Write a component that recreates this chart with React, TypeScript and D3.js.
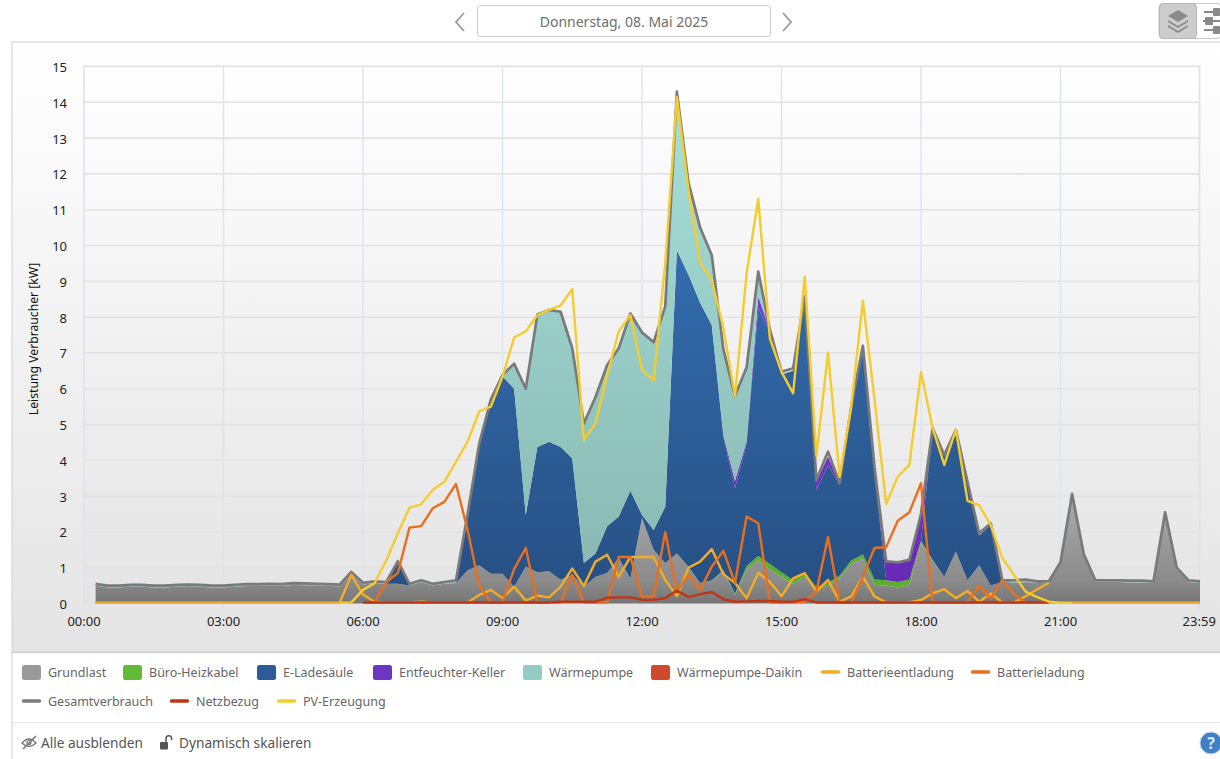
import React from "react";
import * as d3 from "d3";

const grundlast = [.5,.45,.45,.47,.47,.45,.45,.47,.48,.47,.45,.45,.47,.49,.49,.5,.49,.52,.51,.5,.49,.48,.83,.53,.57,.55,.55,.5,.6,.5,.55,.57,.93,1.07,.83,.83,.47,1.03,.87,.9,.66,.8,.47,.75,.85,1.27,.7,2.39,1.5,1.13,1.4,1.03,.57,.65,.9,.24,.95,1.2,.95,.75,.55,.75,.38,.5,.72,1.12,1.25,.52,.5,.45,.52,1.7,1.2,.75,1.45,.65,1.07,.5,.6,.57,.6,.57,.57,1.1,3.01,1.33,.6,.6,.6,.59,.59,.57,2.5,.95,.6,.57];
const bueroHeizkabel = [0,0,0,0,0,0,0,0,0,0,0,0,0,0,0,0,0,0,0,0,0,0,0,0,0,0,0,0,0,0,0,0,0,0,0,0,0,0,0,0,0,0,0,0,0,0,0,0,0,0,0,0,0,0,.03,.03,.1,.13,.15,.12,.1,.1,.08,.08,.06,.08,.12,.15,.15,.15,.15,.05,.02,0,0,0,0,0,0,0,0,0,0,0,0,0,0,0,0,0,0,0,0,0,0,0];
const eLadesaeule = [0,0,0,0,0,0,0,0,0,0,0,0,0,0,0,0,0,0,0,0,0,0,0,0,0,0,.6,0,0,0,0,0,1.55,3.38,4.82,5.52,5.53,1.44,3.5,3.62,3.71,3.26,.66,.65,1.31,1.16,2.45,.08,.55,1.57,8.47,8.15,7.83,7.13,3.73,2.95,3.42,6.92,6.5,5.53,5.85,7.65,2.71,3.29,2.54,4.25,5.78,2.98,0,0,0,0,3.63,3.35,3.35,2.7,.83,1.7,.03,0,0,0,0,0,0,0,0,0,0,0,0,0,0,0,0,0];
const entfeuchter = [0,0,0,0,0,0,0,0,0,0,0,0,0,0,0,0,0,0,0,0,0,0,0,0,0,0,0,0,0,0,0,0,0,0,0,0,0,0,0,0,0,0,0,0,0,0,0,0,0,0,0,0,0,0,.05,.2,.07,.32,.05,0,0,.03,.23,.23,.03,.03,.03,.1,.5,.55,.55,.78,.03,0,0,0,0,0,0,0,0,0,0,0,0,0,0,0,0,0,0,0,0,0,0,0];
const waermepumpe = [.05,.05,.05,.05,.05,.05,.05,.05,.05,.05,.05,.05,.05,.05,.05,.05,.05,.05,.05,.05,.05,.05,.05,.05,.05,.05,.03,.05,.05,.05,.05,.05,0,0,0,.03,.7,3.53,3.7,3.68,3.78,3.07,3.9,4.37,4.5,4.7,4.95,5.1,5.25,5.6,4.43,2.57,2.1,1.95,2.39,2.38,2.06,.7,0,0,0,0,0,0,0,0,0,0,0,0,0,0,0,0,0,0,0,0,.02,.05,.05,.05,.05,.05,.05,.05,.05,.05,.05,.05,.05,.05,.05,.05,.05,.05];
const daikin = grundlast.map(() => 0);
const batterieentladung: (number | null)[] = [.02,.02,.02,.02,.02,.02,.02,.02,.02,.02,.02,.02,.02,.02,.02,.02,.02,.02,.02,.02,.02,.03,.8,.25,.05,.03,.03,.03,.05,.03,.03,.03,.03,.24,.38,.15,.47,.08,.22,.17,.47,.98,.49,1.17,1.36,.74,1.3,1.3,1.3,.66,.2,1,1.17,1.52,.82,.57,.15,.86,.6,.2,.7,.85,.33,.66,.05,.2,.75,.2,.03,.03,.03,.1,.28,.4,.15,.35,.05,.28,.03,.03,.2,.4,.58,null,.02,.02,.02,.02,.02,.02,.02,.02,.02,.02,.02,.02];
const batterieladung: (number | null)[] = [null,null,null,null,null,null,null,null,null,null,null,null,null,null,null,null,null,null,null,null,null,null,null,null,.03,.6,.85,2.12,2.16,2.66,2.84,3.34,2.05,.5,.03,.03,.96,1.55,.03,.03,.03,.8,.03,.03,.03,1.3,1.3,.2,.2,2,.33,.8,.38,1.03,1.47,.57,2.43,2.24,.03,.03,.03,.05,.33,1.85,.03,.03,.75,1.55,1.57,2.31,2.55,3.36,.03,.03,.03,.03,.5,.13,.66,.25,.03,null,null,null,null,null,null,null,null,null,null,null,null,null,null,null];
const gesamtverbrauch = [.55,.5,.5,.52,.52,.5,.5,.52,.53,.52,.5,.5,.52,.54,.54,.55,.54,.57,.56,.55,.54,.53,.88,.58,.62,.6,1.18,.55,.65,.55,.6,.65,2.5,4.47,5.7,6.38,6.7,6,8.07,8.2,8.15,7.13,5.03,5.77,6.66,7.13,8.1,7.57,7.3,8.3,14.3,11.75,10.5,9.73,7.1,5.8,6.6,9.27,7.65,6.47,6.57,8.57,3.45,4.24,3.36,5.5,7.2,3.8,1.18,1.15,1.22,2.5,4.9,4.15,4.85,3.4,1.96,2.24,.65,.65,.67,.62,.62,1.15,3.06,1.38,.65,.65,.65,.64,.64,.62,2.55,1,.65,.62];
const netzbezug: (number | null)[] = [null,null,null,null,null,null,null,null,null,null,null,null,null,null,null,null,null,null,null,null,null,null,null,.03,.03,.03,.03,.03,.03,.03,.03,.03,.03,.03,.03,.03,.03,.03,.03,.03,.05,.05,.05,.05,.16,.17,.17,.1,.1,.15,.36,.18,.26,.32,.12,.05,.06,.07,.07,.05,.05,.12,.03,.03,.03,.03,.03,.03,.03,.03,.03,.03,.03,.03,.03,.03,.03,.03,.03,.03,.03,.03,.03,null,null,null,null,null,null,null,null,null,null,null,null,null];
const pvErzeugung: (number | null)[] = [null,null,null,null,null,null,null,null,null,null,null,null,null,null,null,null,null,null,null,null,null,.02,.03,.38,.57,1.2,1.96,2.68,2.77,3.17,3.4,3.96,4.52,5.37,5.5,6.33,7.43,7.6,8.05,8.2,8.33,8.78,4.57,5.03,6.38,7.6,8.05,6.52,6.24,9.5,14.15,11.55,9.52,9.03,7.7,5.8,9.23,11.3,7.4,6.47,5.87,9.13,4.12,7,3.54,5.5,8.46,5.7,2.78,3.54,3.87,6.47,4.9,3.87,4.85,2.87,2.75,2.19,1.27,.8,.33,.18,.05,.02,.02,null,null,null,null,null,null,null,null,null,null,null];

const yTicks = d3.range(0, 16);
const xTickMinutes = [0, 180, 360, 540, 720, 900, 1080, 1260, 1439];
const xTickLabels = ["00:00", "03:00", "06:00", "09:00", "12:00", "15:00", "18:00", "21:00", "23:59"];
const dateLabel = "Donnerstag, 08. Mai 2025";
const yTitle = "Leistung Verbraucher [kW]";

const stackKeys = ["grund", "buero", "lade", "feucht", "wp", "daikin"];
const stackValues: Record<string, number[]> = { grund: grundlast, buero: bueroHeizkabel, lade: eLadesaeule, feucht: entfeuchter, wp: waermepumpe, daikin };
const stackColors: Record<string, [string, string]> = {
  buero: ["#8fe05a", "#58ad2b"],
  lade: ["#3a7cc6", "#264f82"],
  feucht: ["#8d4de6", "#6429b4"],
  wp: ["#a8e2dc", "#88b6b0"],
  daikin: ["#e0583a", "#c2391c"],
};

const legendAreas = [
  ["Grundlast", 22, "#9a9a9a"], ["Büro-Heizkabel", 123, "#62bb35"], ["E-Ladesäule", 257, "#2c5b98"],
  ["Entfeuchter-Keller", 373, "#6d36c0"], ["Wärmepumpe", 523, "#93cbc5"], ["Wärmepumpe-Daikin", 651, "#cf4a2c"],
] as const;
const legendLines = [
  ["Batterieentladung", 821, 672, "#f4ac26"], ["Batterieladung", 971, 672, "#e96f1e"],
  ["Gesamtverbrauch", 22, 701, "#7b7b7b"], ["Netzbezug", 170, 701, "#c03516"], ["PV-Erzeugung", 277, 701, "#f5cc2e"],
] as const;

const FONT = "'Noto Sans', sans-serif";

export default function App() {
  const x = d3.scaleLinear().domain([0, 1440]).range([84, 1200]);
  const y = d3.scaleLinear().domain([0, 15]).range([603.5, 66.5]);
  const minutes = grundlast.map((_, i) => (i + 1) * 15);

  const rows = minutes.map((m, i) => {
    const r: Record<string, number> = { m };
    stackKeys.forEach((k) => (r[k] = stackValues[k][i]));
    return r;
  });
  const layers = d3.stack<Record<string, number>>().keys(stackKeys)(rows);
  const area = d3.area<d3.SeriesPoint<Record<string, number>>>()
    .x((d) => x(d.data.m)).y0((d) => y(d[0])).y1((d) => y(d[1]));
  const line = d3.line<number | null>()
    .defined((d) => d !== null)
    .x((_, i) => x(minutes[i])).y((d) => y(d as number));

  return (
    <svg width={1220} height={759} style={{ position: "absolute", left: 0, top: 0, background: "#fff", fontFamily: FONT }}>
      <defs>
        <linearGradient id="bg" x1="0" y1="0" x2="0" y2="1">
          <stop offset="0" stopColor="#ffffff" /><stop offset="1" stopColor="#e4e4e4" />
        </linearGradient>
        <linearGradient id="g-grund" gradientUnits="userSpaceOnUse" x1="0" y1="490" x2="0" y2="604">
          <stop offset="0" stopColor="#acacac" />
          <stop offset="0.8" stopColor="#8b8b8b" />
          <stop offset="1" stopColor="#757575" />
        </linearGradient>
        {Object.keys(stackColors).map((k) => (
          <linearGradient key={k} id={"g-" + k} gradientUnits="userSpaceOnUse" x1="0" y1="66" x2="0" y2="604">
            <stop offset="0" stopColor={stackColors[k][0]} /><stop offset="1" stopColor={stackColors[k][1]} />
          </linearGradient>
        ))}
      </defs>

      {/* top bar */}
      <rect x={477.5} y={5.5} width={293} height={31} rx={2} fill="#fff" stroke="#cfcfcf" />
      <text x={624} y={27} textAnchor="middle" fontSize={14} fill="#6e6e6e">{dateLabel}</text>
      <path d="M464 13 L456 22 L464 31" fill="none" stroke="#9a9a9a" strokeWidth={1.8} />
      <path d="M783 13 L791 22 L783 31" fill="none" stroke="#9a9a9a" strokeWidth={1.8} />
      <rect x={1159} y={3.5} width={62} height={35} rx={4} fill="#fff" stroke="#c8c8c8" />
      <rect x={1159.5} y={3.5} width={37} height={35} rx={4} fill="#cdcdcd" stroke="#b5b5b5" />
      <path d="M1178 10 L1188 16 L1178 22 L1168 16 Z" fill="#8a8a8a" />
      <path d="M1168 20 L1178 26 L1188 20 L1188 22 L1178 28 L1168 22 Z" fill="#8a8a8a" />
      <path d="M1168 25 L1178 31 L1188 25 L1188 27 L1178 33 L1168 27 Z" fill="#8a8a8a" />
      <g fill="#8a8a8a">
        <rect x={1204} y={11} width={16} height={2} /><rect x={1213} y={8} width={7} height={8} rx={1} />
        <rect x={1203} y={20} width={17} height={2} /><rect x={1205} y={17} width={8} height={8} rx={1} />
        <rect x={1204} y={29} width={16} height={2} /><rect x={1213} y={26} width={7} height={8} rx={1} />
      </g>

      {/* chart frame */}
      <rect x={12} y={42} width={1209} height={610} fill="url(#bg)" stroke="#cfcfcf" />
      <rect x={84} y={66} width={1116} height={538} fill="url(#bg)" opacity={0.9} />
      <rect x={84} y={66} width={1116} height={538} fill="none" stroke="#e6e6e6" />
      {yTicks.map((t) => (
        <line key={t} x1={84} x2={1200} y1={y(t)} y2={y(t)} stroke="#e3e3e3" strokeWidth={1.6} />
      ))}
      {xTickMinutes.map((m) => (
        <line key={m} x1={x(m)} x2={x(m)} y1={66} y2={610} stroke="#dfe3ea" strokeWidth={1.4} />
      ))}

      {layers.map((l) => (
        <path key={l.key} d={area(l) || ""} fill={`url(#g-${l.key})`} />
      ))}
      <path d={line(gesamtverbrauch) || ""} fill="none" stroke="#7a7a7a" strokeWidth={2.7} strokeLinejoin="round" />
      <path d={line(batterieentladung) || ""} fill="none" stroke="#f4ac26" strokeWidth={2.4} strokeLinejoin="round" />
      <path d={line(batterieladung) || ""} fill="none" stroke="#e96f1e" strokeWidth={2.4} strokeLinejoin="round" />
      <path d={line(netzbezug) || ""} fill="none" stroke="#c03516" strokeWidth={2.4} strokeLinejoin="round" />
      <path d={line(pvErzeugung) || ""} fill="none" stroke="#f5cc2e" strokeWidth={2.4} strokeLinejoin="round" />

      {yTicks.map((t) => (
        <text key={t} x={67} y={y(t) + 5.5} textAnchor="end" fontSize={13} fill="#222">{t}</text>
      ))}
      {xTickMinutes.map((m, i) => (
        <text key={m} x={x(m)} y={626} textAnchor="middle" fontSize={13} fill="#222">{xTickLabels[i]}</text>
      ))}
      <text transform="translate(38,339) rotate(-90)" textAnchor="middle" fontSize={12.2} fill="#111">{yTitle}</text>

      {/* legend */}
      <rect x={12} y={652.5} width={1209} height={107} fill="#fff" />
      <line x1={12} x2={12} y1={652} y2={759} stroke="#cfcfcf" />
      <line x1={12} x2={1220} y1={652.5} y2={652.5} stroke="#cfcfcf" />
      {legendAreas.map(([name, lx, c]) => (
        <g key={name}>
          <rect x={lx} y={665} width={19} height={15} rx={2.5} fill={c} />
          <text x={lx + 26} y={677} fontSize={12.5} fill="#666">{name}</text>
        </g>
      ))}
      {legendLines.map(([name, lx, ly, c]) => (
        <g key={name}>
          <line x1={lx + 1.5} x2={lx + 17.5} y1={ly} y2={ly} stroke={c} strokeWidth={3.5} strokeLinecap="round" />
          <text x={lx + 26} y={ly + 5} fontSize={12.5} fill="#666">{name}</text>
        </g>
      ))}
      <line x1={12} x2={1220} y1={722.5} y2={722.5} stroke="#e6e6e6" />

      {/* bottom actions */}
      <g stroke="#777" fill="none">
        <path d="M22 743 Q29 735 36 743 Q29 750 22 743 Z" strokeWidth={1.3} />
        <circle cx={29} cy={742.5} r={2} strokeWidth={1.2} />
        <line x1={23} y1={749} x2={36} y2={736} strokeWidth={1.6} />
      </g>
      <text x={41} y={748} fontSize={13.6} fill="#555">Alle ausblenden</text>
      <rect x={160} y={742} width={8} height={7.5} rx={1} fill="#555" />
      <path d="M166 742 V738.5 a2.8 2.8 0 0 1 5.6 0 V740" fill="none" stroke="#555" strokeWidth={1.5} />
      <text x={179} y={748} fontSize={13.7} fill="#555">Dynamisch skalieren</text>
      <circle cx={1211} cy={743} r={11} fill="#3f7fc8" stroke="#c6d8ee" strokeWidth={1} />
      <text x={1211} y={749} textAnchor="middle" fontSize={16} fontWeight={700} fill="#dfeaf7">?</text>
    </svg>
  );
}
